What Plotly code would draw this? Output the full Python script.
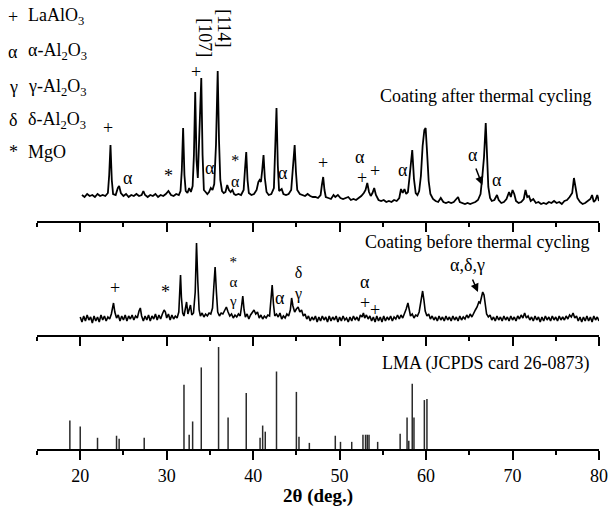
import plotly.graph_objects as go

# ---------------- data ----------------
# XRD pattern of the coating after thermal cycling: (2theta, intensity a.u.)
after_cycling = [
    (20.2, 5), (20.5, 3), (20.8, 6), (21.1, 4), (21.4, 5), (21.7, 3), (22.0, 6), (22.3, 4),
    (22.6, 5), (22.9, 4), (23.2, 7), (23.35, 25), (23.5, 55), (23.65, 20), (23.8, 6), (24.1, 5),
    (24.35, 12), (24.5, 14), (24.7, 7), (25.0, 4), (25.3, 6), (25.6, 3), (25.9, 5), (26.2, 4),
    (26.5, 6), (26.8, 4), (27.1, 5), (27.3, 9), (27.5, 5), (27.8, 3), (28.1, 5), (28.4, 4),
    (28.7, 6), (29.0, 3), (29.3, 5), (29.6, 4), (29.9, 6), (30.2, 9), (30.5, 5), (30.8, 4),
    (31.1, 6), (31.4, 5), (31.6, 9), (31.75, 30), (31.9, 72), (32.05, 25), (32.2, 9), (32.4, 7),
    (32.6, 12), (32.8, 8), (33.0, 14), (33.15, 45), (33.3, 108), (33.45, 40), (33.6, 22),
    (33.8, 70), (34.0, 122), (34.15, 45), (34.3, 10), (34.5, 8), (34.7, 6), (34.9, 8),
    (35.1, 12), (35.3, 10), (35.5, 16), (35.7, 55), (35.9, 129), (36.05, 60), (36.2, 20),
    (36.4, 9), (36.6, 7), (36.8, 8), (37.0, 15), (37.2, 10), (37.4, 8), (37.6, 10), (37.8, 6),
    (38.0, 5), (38.3, 6), (38.6, 5), (38.9, 10), (39.05, 30), (39.2, 48), (39.35, 20),
    (39.5, 7), (39.8, 5), (40.1, 6), (40.4, 10), (40.6, 18), (40.75, 20), (40.9, 18),
    (41.05, 30), (41.2, 45), (41.35, 22), (41.55, 8), (41.8, 5), (42.1, 6), (42.4, 12),
    (42.55, 45), (42.7, 92), (42.85, 35), (43.0, 9), (43.3, 11), (43.5, 6), (43.8, 5),
    (44.1, 6), (44.4, 10), (44.6, 30), (44.8, 55), (44.95, 28), (45.1, 10), (45.4, 6),
    (45.7, 5), (46.0, 4), (46.3, 6), (46.6, 4), (46.9, 3), (47.2, 3), (47.5, 2), (47.8, 5),
    (47.95, 15), (48.1, 23), (48.25, 10), (48.4, 3), (48.7, 2), (49.0, 1), (49.3, 5),
    (49.5, 3), (49.8, 5), (50.1, 2), (50.4, 1), (50.7, 2), (51.0, 3), (51.3, 0), (51.6, 1),
    (51.9, 0), (52.2, 2), (52.5, 4), (52.8, 7), (53.0, 10), (53.2, 17), (53.4, 8), (53.6, 4),
    (53.8, 7), (54.0, 12), (54.2, 5), (54.5, 0), (54.8, -1), (55.1, 0), (55.4, -2), (55.7, -1),
    (56.0, -2), (56.3, 0), (56.6, -1), (56.9, 2), (57.1, 11), (57.3, 7), (57.5, 11), (57.7, 6),
    (57.9, 8), (58.1, 24), (58.4, 50), (58.6, 21), (58.8, 7), (59.0, 5), (59.2, 9), (59.4, 24),
    (59.6, 54), (59.8, 70), (59.95, 72), (60.1, 50), (60.3, 19), (60.5, 6), (60.8, 1),
    (61.1, -1), (61.4, -2), (61.7, 2), (62.0, -2), (62.3, -3), (62.6, -2), (62.9, -3),
    (63.2, -2), (63.5, 1), (63.7, 3), (63.9, -2), (64.2, -3), (64.5, -4), (64.8, -3),
    (65.1, -4), (65.4, -3), (65.7, -2), (66.0, 0), (66.3, 6), (66.5, 23), (66.7, 43),
    (66.9, 77), (67.05, 50), (67.2, 13), (67.4, 2), (67.6, -1), (67.9, 0), (68.2, 5), (68.4, 0),
    (68.7, -3), (69.0, -2), (69.3, 1), (69.6, 8), (69.8, 3), (70.0, 10), (70.2, 6), (70.4, -1),
    (70.7, -3), (71.0, -2), (71.3, 1), (71.5, 10), (71.7, 3), (71.9, 4), (72.1, -1), (72.4, 1),
    (72.7, -3), (73.0, -2), (73.3, -4), (73.6, -3), (73.9, -4), (74.2, -2), (74.5, -3),
    (74.8, -1), (75.1, -3), (75.4, -2), (75.7, -4), (76.0, -1), (76.3, 0), (76.6, 3), (76.9, 7),
    (77.1, 22), (77.3, 10), (77.5, 2), (77.8, -2), (78.1, -4), (78.4, -3), (78.7, -1),
    (79.0, 1), (79.2, 5), (79.4, -2), (79.6, 0), (79.8, 5), (80.0, -1),
]

# XRD pattern of the coating before thermal cycling: (2theta, intensity a.u.)
before_cycling = [
    (20.0, 5), (20.2, 0), (20.4, 6), (20.6, 1), (20.8, 7), (21.0, 2), (21.2, 5), (21.4, -1),
    (21.6, 6), (21.8, 1), (22.0, 5), (22.2, 0), (22.4, 7), (22.6, 2), (22.8, 6), (23.0, 1),
    (23.2, 5), (23.4, 3), (23.6, 8), (23.75, 17), (23.85, 19), (24.0, 10), (24.2, 4),
    (24.4, 7), (24.6, 1), (24.8, 6), (25.0, 2), (25.2, 7), (25.4, 1), (25.6, 6), (25.8, 3),
    (26.0, 7), (26.2, 2), (26.4, 6), (26.6, 4), (26.8, 11), (26.95, 14), (27.1, 6), (27.3, 1),
    (27.5, 6), (27.7, 2), (27.9, 7), (28.1, 1), (28.3, 6), (28.5, 3), (28.7, 8), (28.9, 2),
    (29.1, 7), (29.3, 3), (29.5, 8), (29.7, 12), (29.85, 10), (30.0, 4), (30.2, 8), (30.4, 2),
    (30.6, 7), (30.8, 3), (31.0, 6), (31.2, 4), (31.4, 10), (31.5, 28), (31.6, 47), (31.7, 25),
    (31.85, 9), (32.0, 6), (32.15, 12), (32.3, 20), (32.45, 8), (32.6, 12), (32.75, 17),
    (32.9, 7), (33.1, 9), (33.3, 30), (33.45, 79), (33.6, 40), (33.75, 12), (33.9, 6),
    (34.1, 9), (34.3, 5), (34.5, 8), (34.7, 6), (34.9, 9), (35.1, 8), (35.3, 14), (35.45, 35),
    (35.6, 55), (35.75, 30), (35.9, 10), (36.1, 6), (36.3, 9), (36.5, 8), (36.7, 12),
    (36.9, 15), (37.1, 10), (37.3, 6), (37.5, 8), (37.7, 4), (37.9, 7), (38.1, 5), (38.3, 8),
    (38.5, 6), (38.65, 15), (38.8, 26), (38.95, 12), (39.1, 5), (39.3, 8), (39.5, 3), (39.7, 7),
    (39.9, 9), (40.1, 12), (40.3, 8), (40.5, 10), (40.7, 4), (40.9, 7), (41.1, 3), (41.3, 6),
    (41.5, 4), (41.7, 7), (41.9, 6), (42.05, 22), (42.2, 37), (42.35, 18), (42.5, 6), (42.7, 8),
    (42.9, 5), (43.1, 9), (43.3, 3), (43.5, 6), (43.7, 4), (43.9, 8), (44.1, 6), (44.3, 12),
    (44.45, 24), (44.6, 16), (44.8, 10), (45.0, 13), (45.2, 15), (45.4, 10), (45.6, 12),
    (45.8, 6), (46.0, 8), (46.2, 3), (46.4, 6), (46.6, 1), (46.8, 5), (47.0, 2), (47.2, 6),
    (47.4, 0), (47.6, 5), (47.8, 1), (48.0, 6), (48.2, 2), (48.4, 5), (48.6, 0), (48.8, 6),
    (49.0, 1), (49.2, 5), (49.4, 2), (49.6, 6), (49.8, 0), (50.0, 5), (50.2, 1), (50.4, 6),
    (50.6, 2), (50.8, 4), (51.0, 0), (51.2, 5), (51.4, 1), (51.6, 6), (51.8, 2), (52.0, 5),
    (52.2, 1), (52.4, 7), (52.6, 5), (52.75, 9), (52.9, 4), (53.1, 7), (53.3, 3), (53.5, 6),
    (53.7, 1), (53.9, 5), (54.1, 0), (54.3, 6), (54.5, 1), (54.7, 5), (54.9, 0), (55.1, 6),
    (55.3, 1), (55.5, 5), (55.7, 2), (55.9, 6), (56.1, 1), (56.3, 5), (56.5, 3), (56.7, 7),
    (56.9, 3), (57.1, 7), (57.3, 4), (57.5, 8), (57.7, 13), (57.9, 19), (58.05, 11), (58.2, 6),
    (58.4, 8), (58.6, 4), (58.8, 7), (59.0, 6), (59.2, 10), (59.35, 20), (59.5, 28), (59.6, 31),
    (59.75, 22), (59.9, 11), (60.1, 6), (60.3, 8), (60.5, 3), (60.7, 6), (60.9, 2), (61.1, 5),
    (61.3, 1), (61.5, 6), (61.7, 2), (61.9, 5), (62.1, 1), (62.3, 6), (62.5, 2), (62.7, 5),
    (62.9, 1), (63.1, 6), (63.3, 2), (63.5, 5), (63.7, 1), (63.9, 6), (64.1, 2), (64.3, 5),
    (64.5, 3), (64.7, 7), (64.9, 4), (65.1, 8), (65.3, 5), (65.5, 9), (65.7, 12), (65.9, 15),
    (66.1, 20), (66.25, 19), (66.4, 26), (66.55, 30), (66.7, 27), (66.85, 15), (67.0, 8),
    (67.2, 5), (67.4, 7), (67.6, 2), (67.8, 5), (68.0, 1), (68.2, 6), (68.4, 2), (68.6, 5),
    (68.8, 1), (69.0, 6), (69.2, 2), (69.4, 5), (69.6, 1), (69.8, 6), (70.0, 2), (70.2, 5),
    (70.4, 1), (70.6, 6), (70.8, 3), (71.0, 7), (71.2, 4), (71.4, 9), (71.6, 4), (71.8, 6),
    (72.0, 2), (72.2, 5), (72.4, 1), (72.6, 6), (72.8, 2), (73.0, 5), (73.2, 0), (73.4, 5),
    (73.6, 1), (73.8, 6), (74.0, 2), (74.2, 5), (74.4, 1), (74.6, 6), (74.8, 2), (75.0, 5),
    (75.2, 1), (75.4, 6), (75.6, 2), (75.8, 5), (76.0, 2), (76.2, 6), (76.4, 3), (76.6, 7),
    (76.8, 5), (77.0, 9), (77.2, 4), (77.4, 6), (77.6, 1), (77.8, 5), (78.0, 0), (78.2, 5),
    (78.4, 1), (78.6, 6), (78.8, 1), (79.0, 5), (79.2, 0), (79.4, 6), (79.6, 2), (79.8, 5),
    (80.0, 1),
]

# LaMgAl11O19 reference lines (JCPDS 26-0873): position and relative intensity
lma_two_theta = [18.8, 20.0, 22.0, 24.2, 24.5, 27.4, 32.0, 32.6, 33.0, 34.0, 36.0, 37.1,
                 39.2, 40.8, 41.1, 41.4, 42.7, 45.0, 45.3, 46.5, 49.5, 50.1, 51.4, 52.7,
                 53.0, 53.2, 53.4, 54.4, 57.0, 57.8, 58.0, 58.4, 58.6, 59.8, 60.1]
lma_intensity = [28, 22, 11, 13, 10, 11, 63, 14, 27, 80, 100, 31,
                 55, 11, 23, 17, 76, 56, 12, 6, 13, 7, 7, 14,
                 14, 14, 14, 7, 15, 31, 8, 64, 31, 48, 49]

x_ticks = [20, 30, 40, 50, 60, 70, 80]
x_minor_ticks = [15, 25, 35, 45, 55, 65, 75]

# ---------------- figure ----------------
FONT = "Liberation Serif, Times New Roman, serif"

after_x, after_y = zip(*after_cycling)
before_x, before_y = zip(*before_cycling)

stick_x, stick_y = [], []
for pos, inten in zip(lma_two_theta, lma_intensity):
    stick_x += [pos, pos, None]
    stick_y += [0, inten, None]

fig = go.Figure()
fig.add_trace(go.Scatter(x=stick_x, y=stick_y, mode="lines", xaxis="x", yaxis="y",
                         line=dict(color="#2a2a2a", width=1.5), hoverinfo="skip"))
fig.add_trace(go.Scatter(x=before_x, y=before_y, mode="lines", xaxis="x2", yaxis="y2",
                         line=dict(color="black", width=1.6)))
fig.add_trace(go.Scatter(x=after_x, y=after_y, mode="lines", xaxis="x3", yaxis="y3",
                         line=dict(color="black", width=1.8)))

axis_common = dict(range=[15, 80], showline=True, linecolor="black", linewidth=1.8,
                   ticks="outside", ticklen=9, tickwidth=1.8, tickcolor="black",
                   tickvals=x_ticks, showgrid=False, zeroline=False,
                   minor=dict(tickvals=x_minor_ticks, ticklen=4,
                              tickwidth=1.8, tickcolor="black", ticks="outside"))

# panel heights: plot area spans 449 px; separators at 221 and 335 px from top
d1 = 1 - 335 / 449
d2 = 1 - 221 / 449

fig.update_layout(
    width=610, height=509,
    margin=dict(l=37, r=11, t=0, b=60),
    paper_bgcolor="white", plot_bgcolor="white",
    showlegend=False,
    font=dict(family=FONT, size=18, color="black"),
    xaxis=dict(axis_common, anchor="y", showticklabels=True,
               tickfont=dict(family=FONT, size=18)),
    xaxis2=dict(axis_common, anchor="y2", showticklabels=False),
    xaxis3=dict(axis_common, anchor="y3", showticklabels=False),
    yaxis=dict(domain=[0, d1], range=[0, 111.8], visible=False),
    yaxis2=dict(domain=[d1, d2], range=[-13, 101], visible=False),
    yaxis3=dict(domain=[d2, 1], range=[-21, 200], visible=False),
)

ann = []


def label(text, x, y, panel, size=18, **kw):
    ref = {1: ("x", "y"), 2: ("x2", "y2"), 3: ("x3", "y3")}[panel]
    ann.append(dict(text=text, x=x, y=y, xref=ref[0], yref=ref[1], showarrow=False,
                    xanchor="center", yanchor="middle",
                    font=dict(family=FONT, size=size, color="black"), **kw))


def arrow(x, y, ax, ay, panel):
    ref = {2: ("x2", "y2"), 3: ("x3", "y3")}[panel]
    ann.append(dict(text="", x=x, y=y, ax=ax, ay=ay, xref=ref[0], yref=ref[1],
                    axref=ref[0], ayref=ref[1], showarrow=True, arrowhead=2,
                    arrowsize=1.1, arrowwidth=1.5, arrowcolor="black", standoff=0))


# phase markers, after thermal cycling
label("+", 23.2, 72, 3)
label("α", 25.5, 22, 3)
label("*", 30.2, 24, 3)
label("+", 33.4, 128, 3)
label("[107]", 34.4, 162, 3, textangle=90)
label("[114]", 36.6, 172, 3, textangle=90)
label("α", 35.0, 32, 3)
label("*<br>α", 37.9, 29, 3, size=16)
label("α", 43.5, 27, 3)
label("+", 48.1, 37, 3)
label("α", 52.4, 43, 3)
label("+", 52.6, 22, 3)
label("+", 54.1, 29, 3)
label("α", 57.3, 30, 3)
label("α", 65.4, 45, 3)
arrow(66.5, 15, 65.7, 33, 3)
label("α", 68.2, 20, 3)
label("Coating after thermal cycling", 66.9, 104, 3)

# phase markers, before thermal cycling
label("+", 24.0, 34, 2)
label("*", 29.9, 30, 2)
label("*<br>α<br>γ", 37.7, 41, 2, size=15)
label("α", 43.1, 24, 2)
label("δ<br>γ", 45.2, 39, 2, size=16)
label("α", 52.9, 40, 2)
label("+", 52.9, 19, 2)
label("+", 54.1, 12, 2)
label("α,δ,γ", 64.8, 57, 2)
arrow(66.0, 30, 65.3, 44, 2)
label("Coating before thermal cycling", 65.9, 80, 2)

# reference card
label("LMA (JCPDS card 26-0873)", 66.9, 84, 1)

# phase key (top-left)
key_rows = [("+", "LaAlO<sub>3</sub>", 17), ("α", "α-Al<sub>2</sub>O<sub>3</sub>", 52),
            ("γ", "γ-Al<sub>2</sub>O<sub>3</sub>", 87), ("δ", "δ-Al<sub>2</sub>O<sub>3</sub>", 120),
            ("*", "MgO", 152)]
for sym, name, ypx in key_rows:
    yp = 1 - ypx / 449
    ann.append(dict(text=sym, x=(13 - 37) / 562, y=yp, xref="paper", yref="paper",
                    showarrow=False, xanchor="center", yanchor="middle",
                    font=dict(family=FONT, size=18, color="black")))
    ann.append(dict(text=name, x=(26 - 37) / 562, y=yp, xref="paper", yref="paper",
                    showarrow=False, xanchor="left", yanchor="middle",
                    font=dict(family=FONT, size=18, color="black")))

# x-axis title
ann.append(dict(text="<b>2θ (deg.)</b>", x=0.5, y=-(496 - 449) / 449, xref="paper",
                yref="paper", showarrow=False, xanchor="center", yanchor="middle",
                font=dict(family=FONT, size=19, color="black")))

fig.update_layout(annotations=ann)
fig.write_html("out.html")
